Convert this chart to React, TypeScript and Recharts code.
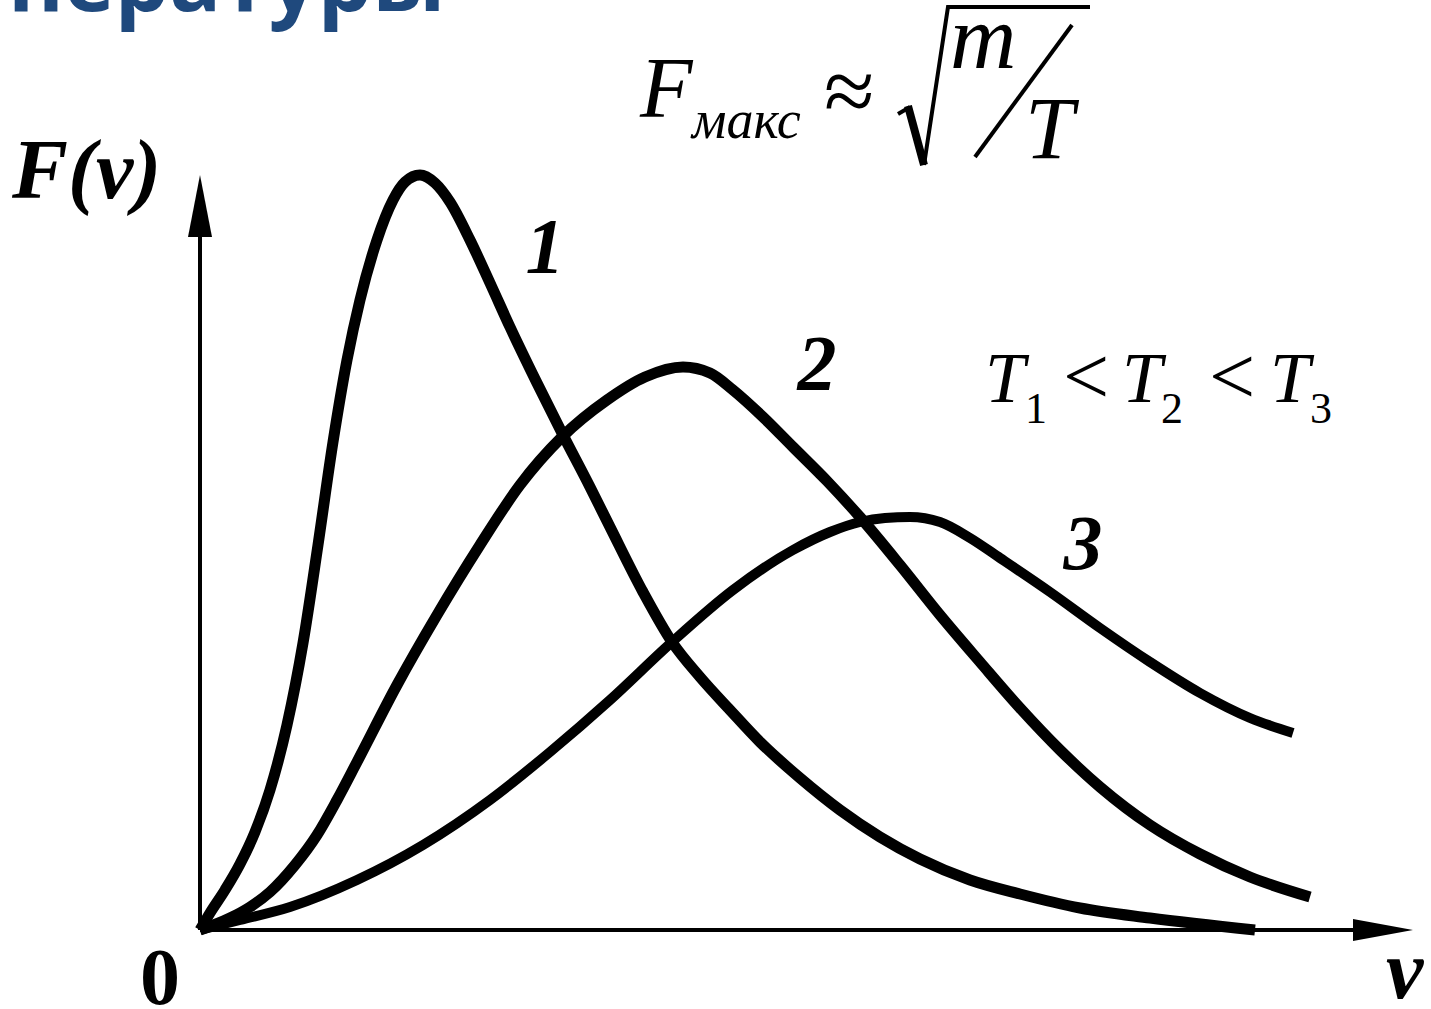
import React from 'react';
import { LineChart, Line, XAxis, YAxis, ReferenceLine, ReferenceDot } from 'recharts';

type Pt = [number, number];

// speed v (arb. units) vs F(v), one array per temperature
const curve1: Pt[] = [
  [0, 0], [0.1, 0.17], [0.25, 0.4], [0.4, 0.66], [0.55, 0.98], [0.7, 1.4], [0.87, 2.05],
  [1.03, 2.87], [1.18, 3.85], [1.33, 4.88], [1.47, 5.7], [1.6, 6.3], [1.77, 6.9], [1.93, 7.3],
  [2.05, 7.48], [2.2, 7.55], [2.35, 7.47], [2.5, 7.28], [2.7, 6.9], [2.9, 6.47], [3.1, 6.03],
  [3.37, 5.47], [3.62, 4.97], [3.9, 4.43], [4.1, 4.03], [4.43, 3.38], [4.72, 2.88], [5.0, 2.53],
  [5.3, 2.2], [5.6, 1.88], [6.0, 1.52], [6.4, 1.2], [6.8, 0.93], [7.2, 0.71], [7.7, 0.5],
  [8.2, 0.36], [8.8, 0.22], [9.5, 0.12], [10.55, 0],
];

const curve2: Pt[] = [
  [0, 0], [0.3, 0.12], [0.5, 0.23], [0.7, 0.38], [0.95, 0.65], [1.17, 0.95], [1.37, 1.3],
  [1.57, 1.68], [1.97, 2.45], [2.37, 3.15], [2.8, 3.85], [3.2, 4.45], [3.62, 4.93], [4.07, 5.3],
  [4.45, 5.53], [4.83, 5.63], [5.1, 5.57], [5.33, 5.4], [5.63, 5.13], [5.93, 4.83], [6.27, 4.49],
  [6.6, 4.13], [7.0, 3.65], [7.4, 3.15], [7.8, 2.68], [8.2, 2.22], [8.6, 1.8], [9.0, 1.43],
  [9.5, 1.05], [10.0, 0.76], [10.5, 0.53], [11.1, 0.33],
];

const curve3: Pt[] = [
  [0, 0], [0.4, 0.1], [0.9, 0.23], [1.57, 0.5], [2.23, 0.85], [2.9, 1.3], [3.5, 1.78],
  [4.1, 2.3], [4.72, 2.88], [5.33, 3.4], [5.93, 3.8], [6.3, 3.98], [6.6, 4.08], [6.85, 4.12],
  [7.1, 4.13], [7.4, 4.08], [7.7, 3.92], [8.0, 3.72], [8.5, 3.38], [9.0, 3.02], [9.5, 2.68],
  [10.0, 2.37], [10.5, 2.12], [10.93, 1.97],
];

const curveLabels = ['1', '2', '3'];
const labelPos: Pt[] = [[3.45, 6.85], [6.17, 5.68], [8.83, 3.88]];

const toRows = (pts: Pt[]) => pts.map(([v, f]) => ({ v, f }));

const W = 1431;
const H = 1009;
const serif = '"Liberation Serif", "Times New Roman", serif';

const bookFont = {
  fontFamily: serif,
  fontWeight: 700,
  fontStyle: 'italic' as const,
  fill: '#000',
};

const ArrowUp = (p: any) => (
  <polygon points={`${p.cx},${p.cy} ${p.cx - 12},${p.cy + 62} ${p.cx + 12},${p.cy + 62}`} fill="#000" />
);

const ArrowRight = (p: any) => (
  <polygon points={`${p.cx},${p.cy} ${p.cx - 60},${p.cy - 11} ${p.cx - 60},${p.cy + 11}`} fill="#000" />
);

const curveLabel = (text: string) => (p: any) => (
  <text x={p.cx} y={p.cy} textAnchor="middle" dominantBaseline="central" fontSize={78} {...bookFont}>
    {text}
  </text>
);

const App = () => {
  const curves = [curve1, curve2, curve3];
  return (
    <div style={{ position: 'absolute', left: 0, top: 0, width: W, height: H, background: '#fff' }}>
      <LineChart width={W} height={H} margin={{ top: 170, right: 11, bottom: 79, left: 200 }}>
        <XAxis type="number" dataKey="v" domain={[0, 12.2]} hide />
        <YAxis type="number" dataKey="f" domain={[0, 7.6]} hide />
        <ReferenceLine segment={[{ x: 0, y: 0 }, { x: 11.8, y: 0 }]} stroke="#000" strokeWidth={4} />
        <ReferenceLine segment={[{ x: 0, y: 0 }, { x: 0, y: 7.2 }]} stroke="#000" strokeWidth={4} />
        <ReferenceDot x={0} y={7.55} r={0} shape={ArrowUp} />
        <ReferenceDot x={12.13} y={0} r={0} shape={ArrowRight} />
        {curves.map((c, i) => (
          <Line
            key={i}
            data={toRows(c)}
            dataKey="f"
            type="monotone"
            stroke="#000"
            strokeWidth={i === 2 ? 10 : 11}
            strokeLinejoin="round"
            dot={false}
            activeDot={false}
            isAnimationActive={false}
          />
        ))}
        {curveLabels.map((t, i) => (
          <ReferenceDot key={t} x={labelPos[i][0]} y={labelPos[i][1]} r={0} shape={curveLabel(t)} />
        ))}
      </LineChart>

      <svg width={W} height={H} style={{ position: 'absolute', left: 0, top: 0, pointerEvents: 'none' }}>
        <text x={8} y={11} fontFamily='"Open Sans", sans-serif' fontWeight={700} fontSize={86} fill="#1F497D">
          пературы
        </text>

        {/* F_макс ≈ sqrt(m/T) */}
        <g fontFamily={serif} fill="#000">
          <text x={640} y={117} fontSize={86} fontStyle="italic">F</text>
          <text x={692} y={138} fontSize={54} fontStyle="italic">макс</text>
          <text x={824} y={122} fontSize={92}>≈</text>
          <text x={950} y={68} fontSize={92} fontStyle="italic">m</text>
          <text x={1025} y={158} fontSize={88} fontStyle="italic">T</text>
        </g>
        <polyline points="898,114 910,107" stroke="#000" strokeWidth={4} fill="none" />
        <polyline points="908,106 924,165" stroke="#000" strokeWidth={8} fill="none" />
        <polyline points="924,165 948,7 1090,7" stroke="#000" strokeWidth={4} fill="none" />
        <line x1={1072} y1={25} x2={975} y2={157} stroke="#000" strokeWidth={4} />

        {/* T1 < T2 < T3 */}
        <g fontFamily={serif} fill="#000">
          <text x={985} y={402} fontSize={72} fontStyle="italic">T</text>
          <text x={1025} y={423} fontSize={44}>1</text>
          <text x={1063} y={404} fontSize={82}>&lt;</text>
          <text x={1122} y={402} fontSize={72} fontStyle="italic">T</text>
          <text x={1161} y={423} fontSize={44}>2</text>
          <text x={1209} y={404} fontSize={82}>&lt;</text>
          <text x={1270} y={402} fontSize={72} fontStyle="italic">T</text>
          <text x={1310} y={423} fontSize={44}>3</text>
        </g>

        <text x={12} y={198} fontSize={84} {...bookFont}>F(v)</text>
        <text x={140} y={1004} fontSize={80} fontFamily={serif} fontWeight={700} fill="#000">0</text>
        <text x={1386} y={998} fontSize={84} {...bookFont}>v</text>
      </svg>
    </div>
  );
};

export default App;
